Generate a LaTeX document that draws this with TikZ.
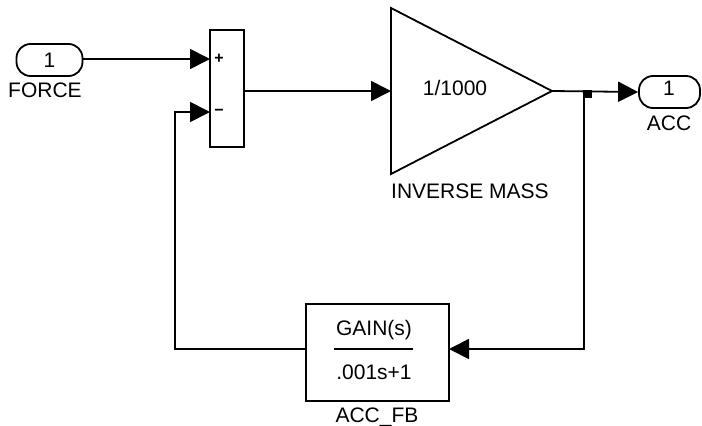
\documentclass[tikz,border=0pt]{standalone}
\usepackage{fontspec}
\setmainfont{Liberation Sans}
\usetikzlibrary{arrows.meta}
\begin{document}
\begin{tikzpicture}[x=1pt,y=-1pt,
  txt/.style={font=\fontsize{21}{25}\selectfont, inner sep=0pt},
  blk/.style={draw, line width=1.8pt, inner sep=0pt},
  port/.style={blk, rounded corners=14pt, minimum width=66pt, minimum height=32pt, font=\fontsize{21}{25}\selectfont},
  sgn/.style={font=\fontsize{16}{18}\selectfont\bfseries, inner sep=0pt},
  wire/.style={line width=1.8pt},
  sig/.style={wire, -{Triangle[length=20pt,width=20pt]}}]
\useasboundingbox (0,0) rectangle (702,426);

% inport FORCE
\node[port] (force) at (49.5,60) {1};
\node[txt, anchor=north] (forcelbl) at (45,83) {FORCE};

% sum block
\node[blk, minimum width=34pt, minimum height=117pt] (sum) at (227,88.5) {};
\coordinate (sumP) at (210,59);
\coordinate (sumM) at (210,112);
\coordinate (sumO) at (244,91);
\node[sgn] (plus) at (219,59) {+};
\node[sgn] (minus) at (219,112) {\textminus};

% gain triangle
\coordinate (gA) at (391,8);
\coordinate (gB) at (391,174);
\coordinate (gT) at (552,91);
\draw[wire, line join=miter] (gA) -- (gT) -- (gB) -- cycle;
\coordinate (gIn) at (391,91);
\node[txt] (gval) at (455,88) {1/1000};
\node[txt, anchor=north] (glbl) at (470,184) {INVERSE MASS};

% outport ACC
\node[port, minimum width=61pt] (acc) at (669.5,92) {};
\node[txt] (accnum) at (669,88) {1};
\node[txt, anchor=north] (acclbl) at (669,116) {ACC};

% feedback block
\node[blk, minimum width=143pt, minimum height=97pt] (fb) at (377.5,352.5) {};
\coordinate (fbIn) at (449,349);
\coordinate (fbOut) at (306,349);
\node[txt] (num) at (374,330) {GAIN(s)};
\node[txt] (den) at (374,372) {.001s+1};
\coordinate (fl) at (334,349);
\coordinate (fr) at (413,349);
\draw[wire] (fl) -- (fr);
\node[txt, anchor=north] (fblbl) at (377,408) {ACC\_FB};

% branch point
\coordinate (br) at (584,91);
\coordinate (brD) at (584,349);
\fill (583,90) rectangle (592,98);

% corners of the feedback path
\coordinate (c1) at (175,349);
\coordinate (c2) at (175,112);

% connectors
\draw[sig] (force.east |- sumP) -- (sumP);
\draw[wire] (sumO) -- (250,91);
\draw[sig] (sumO) -- (gIn);
\draw[sig] (gT) -- (acc.west);
\draw[sig] (br) -- (brD) -- (fbIn);
\draw[sig] (fbOut) -- (c1) -- (c2) -- (sumM);
\end{tikzpicture}
\end{document}
